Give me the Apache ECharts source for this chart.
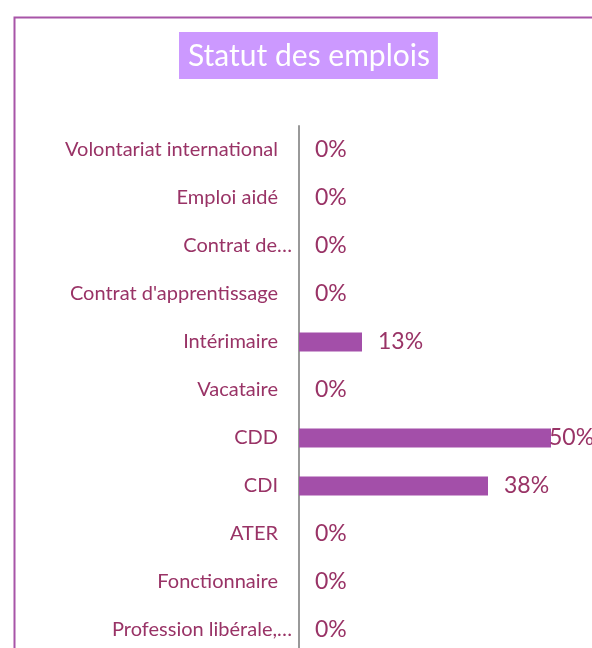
<!DOCTYPE html>
<html>
<head>
<meta charset="utf-8">
<script src="https://cdn.jsdelivr.net/npm/echarts@6/dist/echarts.min.js"></script>
<style>
html,body{margin:0;padding:0;background:#fff;overflow:hidden;}
#chart{width:592px;height:648px;}
</style>
</head>
<body>
<div id="chart"></div>
<script>
const titleText = 'Statut des emplois';
const categories = [
  'Volontariat international',
  'Emploi aidé',
  'Contrat de…',
  "Contrat d'apprentissage",
  'Intérimaire',
  'Vacataire',
  'CDD',
  'CDI',
  'ATER',
  'Fonctionnaire',
  'Profession libérale,…'
];
const shares = [0, 0, 0, 0, 12.5, 0, 50, 37.5, 0, 0, 0];

const FONT = 'Lato, "Open Sans", sans-serif';
const TEXT_COLOR = '#993366';
const maxShare = Math.max(...shares);

// truncated labels sit closer to the axis, as in the original
const categoryData = categories.map(c => c.endsWith('…')
  ? {value: c, textStyle: {padding: [0, -14, 0, 0]}}
  : c);

const chart = echarts.init(document.getElementById('chart'), null, {renderer: 'canvas'});
chart.setOption({
  animation: false,
  backgroundColor: '#ffffff',
  graphic: [{
    type: 'rect',
    left: 12, top: 15,
    shape: {width: 700, height: 700},
    style: {fill: 'none', stroke: '#a855a8', lineWidth: 2},
    silent: true
  }],
  title: {
    text: titleText,
    left: 179, top: 32,
    padding: [9, 8, 8, 9],
    backgroundColor: '#cc99ff',
    textStyle: {color: '#ffffff', fontSize: 30, lineHeight: 30, fontWeight: 'normal', fontFamily: FONT}
  },
  grid: {left: 299, top: 126, width: 252, height: 528, containLabel: false, outerBoundsMode: 'none'},
  xAxis: {type: 'value', min: 0, max: 50, show: false},
  yAxis: {
    type: 'category',
    inverse: true,
    data: categoryData,
    axisLine: {show: true, lineStyle: {color: '#999999', width: 2}},
    axisTick: {show: false},
    splitLine: {show: false},
    axisLabel: {color: TEXT_COLOR, fontSize: 20, fontFamily: FONT, margin: 21, padding: [3, 0, 0, 0]}
  },
  series: [{
    type: 'bar',
    barWidth: 19,
    itemStyle: {color: '#a34fa9'},
    label: {
      show: true,
      position: 'right',
      distance: 16,
      color: TEXT_COLOR,
      fontSize: 23,
      fontFamily: FONT,
      padding: [3, 0, 0, 0],
      formatter: p => Math.round(p.value) + '%'
    },
    data: shares.map(v => v === maxShare ? {value: v, label: {distance: -2}} : v)
  }]
});
</script>
</body>
</html>
